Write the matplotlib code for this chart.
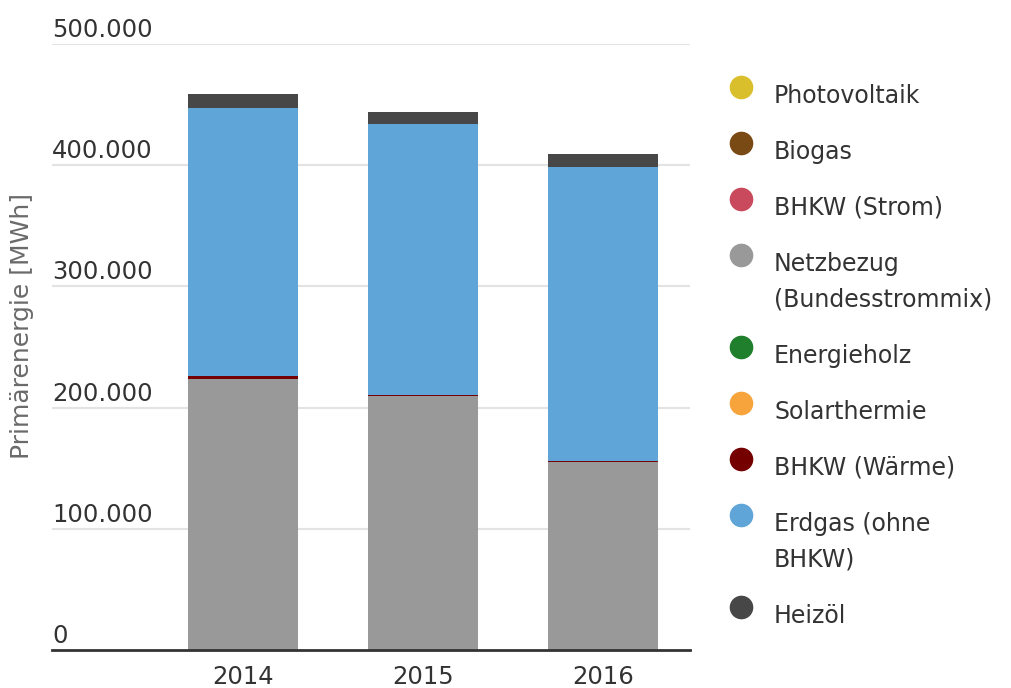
import matplotlib.pyplot as plt
import numpy as np
from matplotlib.transforms import blended_transform_factory, offset_copy

plt.rcParams['font.family'] = ['DejaVu Sans']

years = ["2014", "2015", "2016"]

# stacked from bottom to top, values in MWh
series = [
    "Photovoltaik",
    "Biogas",
    "BHKW (Strom)",
    "Netzbezug\n(Bundesstrommix)",
    "Energieholz",
    "Solarthermie",
    "BHKW (Wärme)",
    "Erdgas (ohne\nBHKW)",
    "Heizöl",
]
photovoltaik = [0, 0, 0]
biogas = [0, 0, 0]
bhkw_strom = [400, 200, 200]
netzbezug = [223000, 209500, 155000]
energieholz = [0, 0, 0]
solarthermie = [0, 0, 0]
bhkw_waerme = [2500, 800, 800]
erdgas = [221500, 223500, 242500]
heizoel = [11000, 10000, 10500]

values = [photovoltaik, biogas, bhkw_strom, netzbezug, energieholz,
          solarthermie, bhkw_waerme, erdgas, heizoel]
colors = ["#d9bf2b", "#7a4a14", "#c94a5c", "#999999", "#1f7f2c",
          "#f7a43c", "#750000", "#5fa5d8", "#474747"]

yticks = [0, 100000, 200000, 300000, 400000, 500000]

W, H = 1011, 688
fig = plt.figure(figsize=(W / 100, H / 100), dpi=100)
ax = fig.add_axes([52 / W, 1 - 650 / H, 638 / W, (650 - 44) / H])

x = np.arange(len(years))
bottom = np.zeros(len(years))
for vals, col in zip(values, colors):
    ax.bar(x, vals, width=0.61, bottom=bottom, color=col, zorder=3)
    bottom += np.array(vals)

ax.set_xlim(-1.06, 2.483)
ax.set_ylim(0, 500000)

for s in ["top", "right", "left"]:
    ax.spines[s].set_visible(False)
ax.spines["bottom"].set_color("#333333")
ax.spines["bottom"].set_linewidth(2)
ax.spines["bottom"].set_zorder(4)

# grid lines
for t in yticks[1:]:
    ax.axhline(t, color="#e3e3e3", linewidth=1.5, zorder=1)

ax.set_yticks([])
ax.set_xticks(x)
ax.set_xticklabels(years, fontsize=17.5, color="#333333")
ax.tick_params(axis="x", length=0, pad=11)

# tick labels sit above the grid lines
trans = offset_copy(blended_transform_factory(ax.transAxes, ax.transData),
                    fig=fig, x=0, y=7, units="dots")
for t in yticks:
    lab = f"{t:,.0f}".replace(",", ".")
    ax.text(0, t, lab, transform=trans, ha="left", va="baseline",
            fontsize=17.5, color="#333333", zorder=5)

fig.text(22 / W, 1 - 326 / H, "Primärenergie [MWh]", rotation=90,
         ha="center", va="center", fontsize=18, color="#6a6a6a")

# legend, drawn line by line
y = 95
for name, col in zip(series, colors):
    fig.lines.append(plt.Line2D([741 / W], [1 - (y - 8) / H],
                                marker="o", markersize=16, color=col,
                                transform=fig.transFigure, linestyle=""))
    for line in name.split("\n"):
        fig.text(774 / W, 1 - (y + 8) / H, line, ha="left", va="baseline",
                 fontsize=17, color="#333333")
        y += 36
    y += 20

fig.savefig("out.png", dpi=100)
